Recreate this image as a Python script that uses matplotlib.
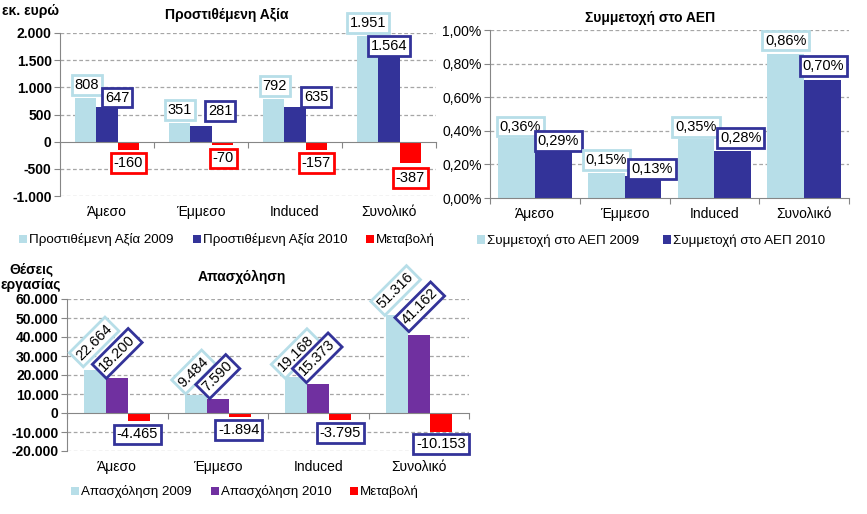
import matplotlib
matplotlib.use("Agg")
import matplotlib.pyplot as plt
import numpy as np
from matplotlib.ticker import FuncFormatter
import matplotlib.transforms as mtransforms

plt.rcParams['font.family'] = ['Liberation Sans', 'DejaVu Sans']

categories = ["Άμεσο", "Έμμεσο", "Induced", "Συνολικό"]

# Panel 1: value added (million euro)
va_2009 = [808, 351, 792, 1951]
va_2010 = [647, 281, 635, 1564]
va_change = [-160, -70, -157, -387]
va_labels = ["Προστιθέμενη Αξία 2009", "Προστιθέμενη Αξία 2010", "Μεταβολή"]

# Panel 2: share of GDP (%)
gdp_2009 = [0.36, 0.15, 0.35, 0.86]
gdp_2010 = [0.29, 0.13, 0.28, 0.70]
gdp_labels = ["Συμμετοχή στο ΑΕΠ 2009", "Συμμετοχή στο ΑΕΠ 2010"]

# Panel 3: employment (jobs)
emp_2009 = [22664, 9484, 19168, 51316]
emp_2010 = [18200, 7590, 15373, 41162]
emp_change = [-4465, -1894, -3795, -10153]
emp_labels = ["Απασχόληση 2009", "Απασχόληση 2010", "Μεταβολή"]

LIGHT = "#B7DEE8"
DBLUE = "#333399"
PURPLE = "#7030A0"
RED = "#FF0000"
GRID = "#A6A6A6"
SPINE = "#868686"

# label offsets in pixels (style)
va_off09 = [(1, 13), (0, 13), (1, 13), (0, 13)]
va_off10 = [(10, 9), (19, 15), (21, 10), (0, 11)]
va_offch = [(0, -13), (1, -13), (0, -13), (0, -15)]
gdp_off09 = [(4, 11), (0, 13), (0, 12), (0, 13)]
gdp_off10 = [(5, 8), (9, 7), (8, 13), (1, 14)]
emp_off09 = [(-1, 28), (-2, 23), (0, 23), (-1, 25)]
emp_off10 = [(0, 25), (0, 22), (-1, 26), (1, 28)]
emp_offch = [(-2, -13), (-1, -13), (0, -13), (0, -12)]


def dotfmt(v):
    return format(int(round(v)), ",").replace(",", ".")


W, H = 867, 514
fig = plt.figure(figsize=(W / 100, H / 100), dpi=100)


def make_axes(l, r, t, b):
    return fig.add_axes([l / W, (H - b) / H, (r - l) / W, (b - t) / H])


def style_axes(ax, ymin, ymax, step, fmt, bold):
    n = len(categories)
    ax.set_xlim(0, n)
    ax.set_ylim(ymin, ymax)
    ticks = np.arange(ymin, ymax + step / 2, step)
    ax.set_yticks(ticks)
    ax.yaxis.set_major_formatter(FuncFormatter(fmt))
    for lab in ax.get_yticklabels():
        lab.set_fontweight('bold' if bold else 'normal')
    ax.tick_params(axis='y', labelsize=10, length=4, color=SPINE, pad=2)
    for y in ticks:
        if y != 0:
            ax.axhline(y, color=GRID, lw=0.9, ls=(0, (3, 2)), zorder=0)
    for s in ['top', 'right']:
        ax.spines[s].set_visible(False)
    ax.spines['left'].set_color(SPINE)
    ax.spines['bottom'].set_color(SPINE)
    ax.spines['bottom'].set_position(('data', 0))
    ax.set_xticks(np.arange(0, n + 1))
    ax.set_xticklabels([])
    ax.tick_params(axis='x', length=4, color=SPINE, direction='out')
    trans = mtransforms.blended_transform_factory(ax.transData, ax.transAxes)
    for i, c in enumerate(categories):
        ax.annotate(c, xy=(i + 0.5, 0), xycoords=trans, xytext=(0, -16),
                    textcoords='offset pixels', ha='center', va='center', fontsize=10)


def label(ax, x, y, text, off, ec, rot=0):
    ax.annotate(text, xy=(x, y), xytext=off, textcoords='offset pixels',
                ha='center', va='center', fontsize=10.5, rotation=rot,
                rotation_mode='anchor',
                bbox=dict(boxstyle='square,pad=0.2', fc='white', ec=ec, lw=2),
                zorder=5)


x = np.arange(len(categories)) + 0.5
LEG = dict(frameon=False, fontsize=9.6, handlelength=0.6, handleheight=0.6,
           handletextpad=0.15, borderpad=0, loc='center')

# ---------- Panel 1 ----------
ax1 = make_axes(60, 436, 33, 196)
style_axes(ax1, -1000, 2000, 500, lambda v, p: dotfmt(v), True)
bw = 0.225
b1 = ax1.bar(x - bw, va_2009, bw, color=LIGHT, label=va_labels[0], zorder=2)
b2 = ax1.bar(x, va_2010, bw, color=DBLUE, label=va_labels[1], zorder=2)
b3 = ax1.bar(x + bw, va_change, bw, color=RED, label=va_labels[2], zorder=2)
for i in range(len(categories)):
    label(ax1, x[i] - bw, va_2009[i], dotfmt(va_2009[i]), va_off09[i], LIGHT)
    label(ax1, x[i], va_2010[i], dotfmt(va_2010[i]), va_off10[i], DBLUE)
    label(ax1, x[i] + bw, va_change[i], dotfmt(va_change[i]), va_offch[i], RED)
fig.text(227 / W, 1 - 15 / H, "Προστιθέμενη Αξία", ha='center', va='center',
         fontsize=10, fontweight='bold')
fig.text(30 / W, 1 - 11 / H, "εκ. ευρώ", ha='center', va='center',
         fontsize=10, fontweight='bold')
fig.legend(handles=[b1, b2, b3], bbox_to_anchor=(227 / W, 1 - 240 / H),
           ncol=3, columnspacing=1.4, **LEG)

# ---------- Panel 2 ----------
ax2 = make_axes(490, 849, 30, 198)
style_axes(ax2, 0, 1.0, 0.2, lambda v, p: f"{v:.2f}".replace(".", ",") + "%", False)
bw2 = 0.41
c1 = ax2.bar(x - bw2 / 2, gdp_2009, bw2, color=LIGHT, label=gdp_labels[0], zorder=2)
c2 = ax2.bar(x + bw2 / 2, gdp_2010, bw2, color=DBLUE, label=gdp_labels[1], zorder=2)
for i in range(len(categories)):
    label(ax2, x[i] - bw2 / 2, gdp_2009[i], f"{gdp_2009[i]:.2f}".replace(".", ",") + "%",
          gdp_off09[i], LIGHT)
    label(ax2, x[i] + bw2 / 2, gdp_2010[i], f"{gdp_2010[i]:.2f}".replace(".", ",") + "%",
          gdp_off10[i], DBLUE)
fig.text(650 / W, 1 - 18 / H, "Συμμετοχή στο ΑΕΠ", ha='center', va='center',
         fontsize=10, fontweight='bold')
fig.legend(handles=[c1, c2], bbox_to_anchor=(651 / W, 1 - 241 / H),
           ncol=2, columnspacing=1.8, **LEG)

# ---------- Panel 3 ----------
ax3 = make_axes(67, 469, 299, 451)
style_axes(ax3, -20000, 60000, 10000, lambda v, p: dotfmt(v), True)
bw3 = 0.22
d1 = ax3.bar(x - bw3, emp_2009, bw3, color=LIGHT, label=emp_labels[0], zorder=2)
d2 = ax3.bar(x, emp_2010, bw3, color=PURPLE, label=emp_labels[1], zorder=2)
d3 = ax3.bar(x + bw3, emp_change, bw3, color=RED, label=emp_labels[2], zorder=2)
for i in range(len(categories)):
    label(ax3, x[i] - bw3, emp_2009[i], dotfmt(emp_2009[i]), emp_off09[i], LIGHT, rot=45)
    label(ax3, x[i], emp_2010[i], dotfmt(emp_2010[i]), emp_off10[i], DBLUE, rot=45)
    label(ax3, x[i] + bw3, emp_change[i], dotfmt(emp_change[i]), emp_offch[i], DBLUE)
fig.text(242 / W, 1 - 277 / H, "Απασχόληση", ha='center', va='center',
         fontsize=10, fontweight='bold')
fig.text(31 / W, 1 - 277 / H, "Θέσεις\nεργασίας", ha='center', va='center',
         fontsize=10, fontweight='bold', multialignment='center', linespacing=1.1)
fig.legend(handles=[d1, d2, d3], bbox_to_anchor=(245 / W, 1 - 492 / H),
           ncol=3, columnspacing=1.4, **LEG)

fig.savefig("out.png", dpi=100)
